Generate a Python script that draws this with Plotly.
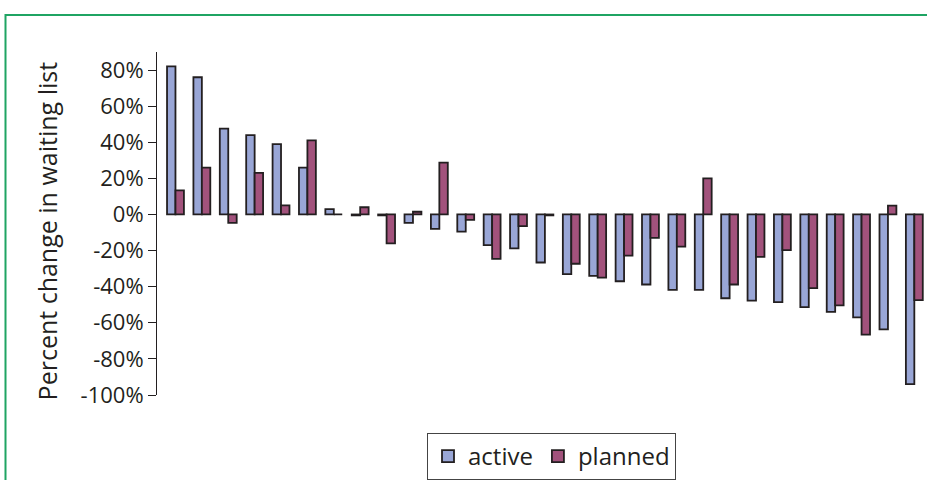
import plotly.graph_objects as go

# Waiting-list change per unit, paired series
categories = list(range(1, 30))
active = [82, 76, 47.5, 44, 39, 26, 3, -0.5, -0.5, -4.6, -8, -9.5, -17, -18.8, -26.6,
          -33, -34, -37, -38.8, -41.8, -41.8, -46.4, -47.7, -48.6, -51.3, -54, -57, -63.7, -94]
planned = [13.4, 26, -4.6, 23, 5, 41, 0, 4, -16, 1.5, 28.7, -3, -24.6, -6.4, -0.5,
           -27.3, -35, -22.8, -13, -17.8, 20, -38.8, -23.5, -19.7, -40.8, -50.4, -66.6, 4.9, -47.5]
y_ticks = [-100, -80, -60, -40, -20, 0, 20, 40, 60, 80]
y_tick_labels = ["-100%", "-80%", "-60%", "-40%", "-20%", "0%", "20%", "40%", "60%", "80%"]
y_title = "Percent change in waiting list"

W, H = 927, 480
ML, MR, MT, MB = 157, 0, 52, 80
PW, PH = W - ML - MR, H - MT - MB


def px_x(p):
    return (p - ML) / PW


def px_y(p):
    return (H - MB - p) / PH


ink = "#231f20"
font_family = "Open Sans, Noto Sans, sans-serif"

fig = go.Figure()
fig.add_trace(go.Bar(x=categories, y=active, name="active",
                     marker=dict(color="#99a6d6", line=dict(color=ink, width=1.8))))
fig.add_trace(go.Bar(x=categories, y=planned, name="planned",
                     marker=dict(color="#a2527c", line=dict(color=ink, width=1.8))))

# Green frame around the panel
green = "#1fa463"
fig.add_shape(type="path", xref="paper", yref="paper",
              path=f"M {px_x(5.5)} {px_y(500)} L {px_x(5.5)} {px_y(14.5)} L {px_x(940)} {px_y(14.5)}",
              line=dict(color=green, width=2))

# Rotated y-axis title
fig.add_annotation(text=y_title, textangle=-90, xref="paper", yref="paper",
                   x=px_x(47), y=px_y(234), xanchor="center", yanchor="middle",
                   showarrow=False, font=dict(size=25, color=ink, family=font_family))

fig.update_layout(
    width=W, height=H,
    margin=dict(l=ML, r=MR, t=MT, b=MB),
    paper_bgcolor="white", plot_bgcolor="white",
    barmode="group", bargap=0.36, bargroupgap=0,
    font=dict(family=font_family, color=ink, size=20),
    showlegend=True,
    legend=dict(orientation="h", x=px_x(427), y=px_y(439), xanchor="left", yanchor="top",
                bordercolor="#444", borderwidth=1, font=dict(size=24),
                itemwidth=30, traceorder="normal", bgcolor="white"),
    xaxis=dict(range=[0.3, 29.48], showticklabels=False, showgrid=False,
               zeroline=False, showline=False, ticks=""),
    yaxis=dict(range=[-100, 90], tickmode="array", tickvals=y_ticks, ticktext=y_tick_labels,
               showgrid=False, zeroline=False, showline=True, linecolor=ink, linewidth=1,
               ticks="outside", ticklen=8, tickcolor=ink, tickwidth=1,
               tickfont=dict(size=22)),
)

fig.write_html("out.html")
